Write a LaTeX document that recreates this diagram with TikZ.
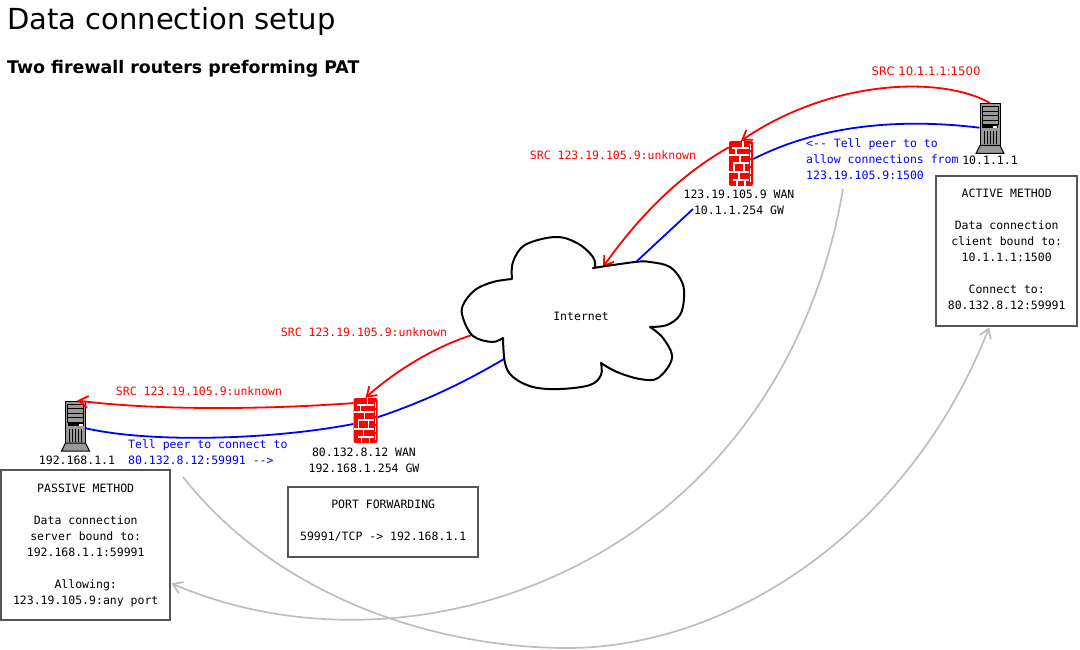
\documentclass[tikz,border=0pt]{standalone}
\usepackage{fontspec}
\usetikzlibrary{arrows.meta,positioning}
\newfontfamily\labelfont{DejaVu Sans Mono}
\newfontfamily\headfont{DejaVu Sans}
\definecolor{redline}{HTML}{FF0000}
\definecolor{blueline}{HTML}{0000FF}
\definecolor{greyline}{HTML}{BEBEBE}
\definecolor{boxline}{HTML}{555555}
\definecolor{towergrey}{HTML}{999999}
\tikzset{
  serverpc/.pic={
    \draw[fill=towergrey, line width=1pt] (-10,21) -- (10,21) -- (14,29) -- (-14,29) -- cycle;
    \draw[line width=0.9pt] (-8,-18) rectangle (8,0);
    \foreach \yy in {-13.5,-9,-4.5} \draw[line width=0.9pt] (-8,\yy) -- (8,\yy);
    \fill[black] (-8,1) rectangle (8,4);
    \fill[white] (3,2) rectangle (7,4);
    \foreach \xx in {-6,-3,0,3,6} \draw[line width=0.9pt] (\xx,7) -- (\xx,20);
  },
  firewallpc/.pic={
    \foreach \yy/\xa in {-15.5/-9,-8.5/-12,-0.5/-8,8.5/-12,16.5/-8} \draw[white, line width=1.1pt] (\xa,\yy) -- (8,\yy);
    \foreach \xx/\yy in {2/-19,-5/-12,-1/-4.5,-7/4,3/4,-2/12.5,4/20,-4/20}
      \draw[white, line width=1.1pt] (\xx,\yy-3.5) -- (\xx,\yy+3.5);
    \draw[white, line width=0.9pt, dash pattern=on 6pt off 2pt] (9.5,-19) -- (9.5,21);
  },
}
\begin{document}
\begin{tikzpicture}[
    x=1pt, y=-1pt,
    lbl/.style={font=\labelfont\fontsize{11.5}{16}\selectfont, align=center, inner sep=0pt},
    redlbl/.style={lbl, text=redline},
    bluelbl/.style={lbl, text=blueline, align=left},
    methodbox/.style={draw=boxline, line width=2.4pt, fill=white, lbl, anchor=north west},
    towerbox/.style={draw, fill=towergrey, line width=1pt, inner sep=0pt, minimum width=20pt, minimum height=42pt},
    wallbox/.style={fill=redline, rounded corners=2pt, inner sep=0pt, minimum width=24pt, minimum height=45pt},
    redarr/.style={draw=redline, line width=1.8pt},
    bluearr/.style={draw=blueline, line width=1.8pt},
    greyarr/.style={draw=greyline, line width=1.7pt},
    barb/.style={-{Straight Barb[length=9pt, width=12pt, line width=1.8pt]}},
  ]
    \useasboundingbox (0,0) rectangle (1080,650);

    \node[font=\headfont\fontsize{29}{34}\selectfont, anchor=base west, inner sep=0pt] (title) at (7,30) {Data connection setup};
    \node[font=\headfont\bfseries\fontsize{17.4}{20}\selectfont, anchor=base west, inner sep=0pt] (subtitle) at (7,74) {Two firewall routers preforming PAT};

    % hosts and firewalls
    \node[towerbox] (srvA) at (990,124.5) {};
    \node[towerbox] (srvB) at (75.5,422) {};
    \node[wallbox] (fwA) at (741,163.5) {};
    \node[wallbox] (fwB) at (365.5,420.5) {};
    \pic at (srvA) {serverpc};
    \pic at (srvB) {serverpc};
    \pic at (fwA) {firewallpc};
    \pic at (fwB) {firewallpc};

    % free ends on the cloud and the gateway label
    \coordinate (cloudNE) at (636,262);
    \coordinate (cloudN) at (603,267);
    \coordinate (cloudW) at (472,335);
    \coordinate (cloudSW) at (504,359);
    \coordinate (wanA) at (693,209);
    \coordinate (tellA) at (843,189);
    \coordinate (tellB) at (183,477);
    \coordinate (lowB) at (567,648);

    \node[methodbox, minimum width=141pt, minimum height=150pt] (active) at (935,175) {};
    \node[methodbox, minimum width=169pt, minimum height=150pt] (passive) at (0,469) {};
    \node[methodbox, minimum width=190pt, minimum height=70pt] (portfwd) at (287,486) {};

    % connections
    \draw[redarr, barb] (srvA.north) .. controls (940,75) and (830,80) .. (fwA.north);
    \draw[bluearr] (srvA.197) .. controls (900,118) and (820,125) .. (fwA.20);
    \draw[redarr, barb] (fwA.127) .. controls (680,175) and (640,215) .. (cloudN);
    \draw[bluearr] (wanA) -- (cloudNE);
    \draw[redarr, barb] (cloudW) .. controls (425,350) and (385,380) .. (fwB.north);
    \draw[bluearr] (cloudSW) .. controls (460,385) and (420,403) .. (fwB.15);
    \draw[redarr, barb] (fwB.125) .. controls (260,410) and (150,410) .. (srvB.85);
    \draw[bluearr] (fwB.196) .. controls (270,440) and (150,443) .. (srvB.-31);
    \draw[greyarr, barb] (tellA) .. controls (780,560) and (420,690) .. (passive.-24.6);
    \draw[greyarr, barb] (tellB) .. controls (280,600) and (440,648) .. (lowB) .. controls (730,648) and (910,530) .. (active.-103);

    % cloud
    \draw[line width=2pt, fill=white, line join=round]
      plot[smooth, tension=0.6] coordinates {(593,268) (635,262) (650,262) (670,267) (682,282) (684,298) (680,315) (667,325) (650,327)}
      -- plot[smooth, tension=0.6] coordinates {(650,327) (663,338) (672,358) (658,378) (640,379) (617,372) (601,363)}
      -- plot[smooth, tension=0.6] coordinates {(601,363) (601,375) (590,385) (560,389) (533,387) (513,377) (505,363) (503,338)}
      -- plot[smooth, tension=0.6] coordinates {(503,338) (492,342) (473,336) (463,318) (463,305) (475,290) (493,282) (512,279)}
      -- plot[smooth, tension=0.6] coordinates {(512,279) (513,262) (525,245) (555,237) (577,243) (593,257) (595,268)}
      -- cycle;
    \node[lbl] (internet) at (581,316) {Internet};

    % labels
    \node[font=\headfont\fontsize{11.7}{16}\selectfont, text=redline, inner sep=0pt] (srcTop) at (926,71) {SRC 10.1.1.1:1500};
    \node[redlbl] (srcA) at (613,155) {SRC 123.19.105.9:unknown};
    \node[redlbl] (srcB) at (364,332) {SRC 123.19.105.9:unknown};
    \node[redlbl] (srcC) at (199,391) {SRC 123.19.105.9:unknown};
    \node[bluelbl, anchor=west] (tellTop) at (806,159) {<-- Tell peer to to\\allow connections from\\123.19.105.9:1500};
    \node[bluelbl, anchor=west] (tellLow) at (128,452) {Tell peer to connect to\\80.132.8.12:59991 -->};
    \node[lbl] (ipA) at (990,160) {10.1.1.1};
    \node[lbl] (ipB) at (77,460) {192.168.1.1};
    \node[lbl] (gwA) at (739,202) {123.19.105.9 WAN\\10.1.1.254 GW};
    \node[lbl] (gwB) at (364,460) {80.132.8.12 WAN\\192.168.1.254 GW};
    \node[lbl, yshift=2pt] (activeTxt) at (active) {ACTIVE METHOD\\[16pt]Data connection\\client bound to:\\10.1.1.1:1500\\[16pt]Connect to:\\80.132.8.12:59991};
    \node[lbl] (passiveTxt) at (passive) {PASSIVE METHOD\\[16pt]Data connection\\server bound to:\\192.168.1.1:59991\\[16pt]Allowing:\\123.19.105.9:any port};
    \node[lbl, yshift=1pt] (portTxt) at (portfwd) {PORT FORWARDING\\[16pt]59991/TCP -> 192.168.1.1};
  \end{tikzpicture}
\end{document}
